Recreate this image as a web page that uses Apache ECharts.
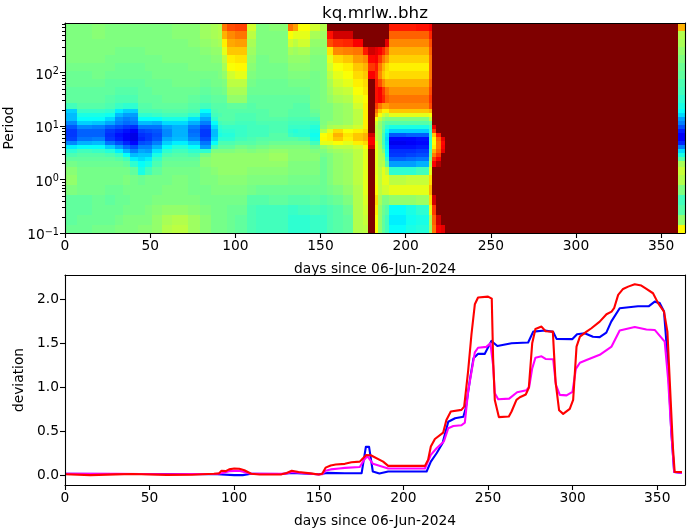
<!DOCTYPE html>
<html><head><meta charset="utf-8">
<style>html,body{margin:0;padding:0;background:#fff}#c{width:690px;height:531px}</style>
<script src="https://cdn.jsdelivr.net/npm/echarts@6/dist/echarts.min.js"></script>
</head><body><div id="c"></div>
<script>
const title = "kq.mrlw..bhz";
const xName = "days since 06-Jun-2024";
const xTicks = [0,50,100,150,200,250,300,350];
const devTicks = [0,0.5,1,1.5,2];
const periodTicks = [0.1,1,10,100];
const minorPeriods = [0.2,0.3,0.4,0.5,0.6,0.7,0.8,0.9,2,3,4,5,6,7,8,9,20,30,40,50,60,70,80,90,200,300,400,500,600,700,800];
const periodEdges = [841,597,423,300,212,151,107,75.6,53.6,38,26.9,20.8,17.5,14.7,12.4,10.4,8.79,7.4,6.22,5.24,4.42,3.72,3.13,2.63,2.22,1.71,1.21,0.789,0.513,0.333,0.217,0.141,0.1];
const dayEdges = [0,7,16,23.5,29.5,34,38,43,47,51,57,63,72,79,86,90,92,95,100,107,112,120,131,134,137,144,150,153.6,157.5,163.4,169.2,175,178,182,184,186,188,190,200,206,213.5,215.5,218,220.5,223,360,364];
const heatColumns = [
[50,50,50,50,50,49,48,48,47,47,44,33,31,31,26,21,18,18,19,26,36,42,45,47,49,51,52,50,47,47,47,48],
[50,50,50,50,50,49,48,48,47,47,46,43,40,38,33,26,22,22,24,30,38,44,46,47,48,49,49,49,47,47,48,48],
[51,51,50,50,50,49,49,48,47,47,46,43,40,38,32,25,22,22,25,31,38,43,46,47,48,49,49,49,48,48,48,49],
[50,50,50,50,49,49,48,47,47,46,45,42,39,34,29,22,18,17,18,24,33,41,45,47,48,49,49,48,47,48,48,49],
[50,50,50,49,49,48,48,47,46,45,43,36,31,27,25,20,16,14,15,20,28,36,43,46,48,49,49,48,48,48,49,50],
[50,50,50,49,49,48,48,47,46,45,42,33,28,25,23,18,14,12,12,16,23,30,38,44,47,49,50,49,48,49,50,50],
[50,50,50,49,49,48,48,47,46,45,42,33,28,26,24,17,12,10,10,13,20,25,31,36,42,47,49,49,49,49,50,50],
[50,50,50,49,49,48,48,47,47,47,46,45,42,38,31,24,19,17,16,20,25,29,32,34,38,40,48,49,49,49,50,51],
[50,50,50,50,49,49,48,48,47,47,46,45,42,38,31,24,20,18,18,21,25,28,32,36,40,44,49,49,49,50,50,51],
[50,50,50,50,49,49,49,48,48,47,47,45,43,38,30,24,21,20,21,25,30,35,40,43,45,47,49,49,50,51,52,52],
[50,50,50,50,50,49,49,48,48,48,47,46,44,40,34,28,26,26,29,33,38,42,45,47,48,49,49,50,50,52,54,55],
[51,51,50,50,50,49,49,49,48,48,47,46,44,40,34,30,30,30,31,36,41,44,46,47,48,49,50,50,50,52,55,56],
[51,51,51,50,50,50,49,49,48,47,46,45,42,35,30,25,23,24,26,32,38,42,45,47,48,49,49,49,50,51,53,53],
[53,53,52,51,50,50,49,48,47,46,44,38,33,29,25,20,18,18,20,24,28,42,49,51,51,50,50,49,49,50,51,51],
[54,54,53,52,51,50,49,49,48,47,46,45,44,42,38,34,31,31,33,38,44,50,52,52,52,51,50,50,49,49,49,49],
[55,55,54,52,51,50,50,49,48,47,46,46,45,46,44,42,41,40,42,45,47,50,52,52,52,52,51,50,49,49,49,49],
[76,70,64,60,56,54,52,50,49,47,46,46,46,46,45,43,42,41,42,45,47,50,52,52,52,52,51,50,49,49,49,49],
[80,74,71,68,64,62,58,56,54,52,47,46,46,46,45,43,42,41,42,45,47,50,52,52,52,52,51,50,49,48,48,48],
[81,76,72,68,65,63,60,56,54,52,47,46,45,45,44,43,43,43,44,46,49,51,52,52,52,52,51,50,49,48,47,47],
[58,56,54,53,52,51,50,49,48,47,46,46,45,45,44,44,44,44,45,46,48,50,52,52,52,51,50,49,46,45,45,45],
[50,50,50,50,49,49,49,48,48,47,47,46,46,46,45,44,44,44,46,47,49,51,52,52,52,51,50,48,46,44,44,44],
[51,50,50,50,50,49,49,48,48,47,47,47,47,46,45,45,45,46,46,48,50,52,53,53,52,51,50,48,47,44,44,44],
[76,62,58,54,52,51,50,49,48,47,47,46,46,45,44,43,42,43,46,48,50,51,51,51,50,50,49,48,46,43,42,42],
[72,60,56,53,52,51,50,49,48,47,46,46,46,45,44,43,41,42,46,48,50,51,51,51,50,50,49,48,46,43,42,42],
[62,60,58,54,52,51,50,49,48,47,46,46,46,45,44,43,42,42,45,48,50,51,51,51,50,50,49,48,46,44,42,42],
[58,54,52,51,50,50,49,49,49,49,49,48,47,45,43,41,40,39,40,44,48,50,51,51,50,50,49,48,47,45,43,43],
[55,53,52,51,50,50,50,50,50,50,50,50,50,50,50,51,55,62,63,60,52,50,49,48,48,48,48,48,46,44,43,43],
[100,86,80,65,60,58,56,54,53,52,50,50,50,50,52,54,60,64,64,60,54,52,50,50,50,50,50,49,47,45,45,45],
[100,92,83,74,66,62,60,58,56,54,52,52,52,52,52,55,66,70,68,62,56,53,52,52,52,52,52,50,48,46,46,46],
[100,92,84,75,68,64,62,60,57,55,53,53,53,53,53,56,62,65,64,60,56,54,53,53,53,53,53,52,50,48,47,47],
[100,100,88,76,72,68,66,64,62,60,58,56,56,56,56,58,64,68,68,64,58,56,56,56,56,56,56,55,55,55,55,55],
[100,100,100,85,74,70,68,66,65,63,64,64,64,64,64,64,66,70,70,66,62,60,60,60,60,60,60,60,59,58,57,56],
[100,100,100,92,87,82,88,100,100,100,100,100,100,100,100,100,100,92,88,88,92,100,100,100,100,100,100,100,100,100,100,100],
[100,100,100,90,88,85,84,85,86,86,82,76,72,62,58,56,56,56,56,60,60,60,60,60,60,60,61,63,66,64,62,62],
[100,100,100,88,82,76,74,80,88,88,76,68,62,56,52,52,53,53,53,53,54,55,55,55,55,56,56,56,54,52,52,52],
[100,100,100,84,76,70,68,74,82,84,72,64,58,52,48,47,46,44,44,44,46,50,54,55,56,60,60,58,50,48,47,47],
[100,100,90,78,72,66,65,70,76,78,72,64,56,50,46,42,38,35,34,35,36,37,38,42,46,56,60,58,50,46,44,44],
[85,78,74,70,67,64,66,70,73,76,74,68,60,50,46,40,33,21,13,11,14,17,18,22,28,42,56,60,52,38,36,38],
[85,78,74,70,67,64,66,70,73,76,74,68,60,50,46,40,33,22,13,12,14,17,19,23,28,42,57,60,52,40,39,40],
[86,78,74,70,67,64,66,70,73,76,74,68,60,50,46,40,33,22,14,13,15,18,20,24,30,44,57,60,53,42,40,41],
[88,84,80,78,76,76,76,78,80,82,80,70,62,56,48,44,42,42,42,42,42,44,46,50,54,60,66,70,66,60,54,52],
[100,100,100,100,100,100,100,100,100,100,100,100,100,100,100,90,82,68,63,62,64,70,75,82,88,100,100,100,92,82,78,76],
[100,100,100,100,100,100,100,100,100,100,100,100,100,100,100,100,100,85,78,76,76,78,82,88,95,100,100,100,100,100,92,88],
[100,100,100,100,100,100,100,100,100,100,100,100,100,100,100,100,100,100,90,87,88,90,100,100,100,100,100,100,100,100,100,90],
[100,100,100,100,100,100,100,100,100,100,100,100,100,100,100,100,100,100,100,100,100,100,100,100,100,100,100,100,100,100,100,100],
[70,55,54,52,50,48,47,45,44,42,40,38,34,28,25,20,15,12,12,16,25,34,40,46,54,57,55,50,44,46,52,63]
];
const blueDays = [0,30,60,90,100,105,110,128,134,150,155,165.4,175.3,177.8,179.7,181.9,185.8,191,213.7,216.2,219.6,223.1,226.5,230.5,235.4,236.8,239.4,241.4,244,248,252,255.5,263.9,273.7,276.7,283.7,288.5,290.5,299.9,302.6,307.1,312,316,319.9,322.8,327.8,338.6,344.9,348.5,351.5,354,356.4,358.3,360,364.6];
const blueVals = [0.02,0.018,0.018,0.015,0.005,0.005,0.02,0.018,0.03,0.015,0.03,0.027,0.027,0.325,0.325,0.046,0.024,0.046,0.046,0.159,0.253,0.366,0.61,0.65,0.667,0.76,1.1,1.33,1.38,1.38,1.527,1.47,1.5,1.51,1.633,1.645,1.63,1.55,1.548,1.603,1.615,1.574,1.57,1.622,1.746,1.898,1.92,1.92,1.973,1.956,1.86,1.26,0.5,0.04,0.03];
const magentaDays = [0,30,60,90,93,97,103,107,110,130,134,140,150,152,154,157,162,165.4,174.2,176.7,178.7,182,191,212.7,216.2,219.6,223.9,226.5,229.5,234.3,236.3,238.2,242.2,244.1,249,251.4,253,254,256,262.5,267.2,272.7,274.3,276.1,278,281.6,284,288.5,290.1,292.4,296.4,299.9,301.9,304.3,308.2,316,323,327.8,336.7,343.6,348.5,354.4,356.4,358.3,360,364.6];
const magentaVals = [0.02,0.02,0.015,0.02,0.03,0.05,0.055,0.035,0.02,0.02,0.04,0.03,0.012,0.015,0.055,0.07,0.08,0.087,0.098,0.177,0.22,0.133,0.08,0.08,0.235,0.31,0.386,0.537,0.563,0.571,0.6,0.95,1.397,1.45,1.46,1.5,1.25,0.934,0.866,0.873,0.945,0.968,1.005,1.215,1.337,1.353,1.323,1.32,1.03,0.915,0.91,0.95,1.21,1.28,1.31,1.37,1.463,1.645,1.686,1.656,1.652,1.52,1.1,0.5,0.04,0.03];
const redDays = [0,15,30,40,60,75,88,91,92.5,95,97,100,103,106,110,115,128,131,134,138,145,150,152,154,157,160,165.4,169.3,174.2,178,180.7,188,191,212.7,214.6,216.2,218.6,223.5,225.4,228,234.3,235.9,238.2,240.2,242.2,244.1,250,252.2,253,254,256.4,262.3,263.9,266.8,268.8,272.3,274.1,276.1,278,281.6,284,288.3,289.9,292,294.4,298.3,300.3,302.3,304.3,308.2,311.1,316,320,323,324.5,326.9,329.8,332.8,336.7,340.6,343.6,347.5,350.5,354,356,357.4,359.3,360.3,364.6];
const redVals = [0.015,0.005,0.013,0.018,0.008,0.01,0.02,0.025,0.055,0.05,0.07,0.08,0.078,0.06,0.02,0.012,0.014,0.03,0.055,0.04,0.025,0.012,0.02,0.09,0.115,0.125,0.133,0.151,0.158,0.234,0.23,0.158,0.11,0.11,0.18,0.329,0.415,0.487,0.63,0.726,0.745,0.782,1.18,1.6,1.943,2.02,2.03,2.007,1.33,0.858,0.663,0.67,0.727,0.858,0.888,0.92,0.996,1.5,1.663,1.69,1.637,1.633,1.066,0.74,0.7,0.756,0.858,1.463,1.576,1.633,1.671,1.746,1.83,1.86,1.898,2.05,2.117,2.143,2.17,2.155,2.117,2.068,1.956,1.86,1.633,1.07,0.31,0.04,0.04];
const jetColors = ['#00007f','#0000ff','#007fff','#00ffff','#7fff7f','#ffff00','#ff7f00','#ff0000','#7f0000'];

const FONT = 'DejaVu Sans';
const FS = 13.8;
const zipXY = (xs, ys) => xs.map((x, i) => [x, ys[i]]);
const heatData = [];
heatColumns.forEach((col, c) => col.forEach((v, r) =>
  heatData.push([dayEdges[c], dayEdges[c + 1], periodEdges[r + 1], periodEdges[r], v])));
const label = {fontFamily: FONT, fontSize: FS, color: '#000', margin: 6};
const lineS = {color: '#000', width: 1.1};
const frameX = (g) => ({type: 'value', gridIndex: g, position: 'top', min: 0, max: 1, z: 10,
  axisLine: {show: true, onZero: false, lineStyle: lineS}, axisTick: {show: false}, axisLabel: {show: false}, splitLine: {show: false}});
const frameY = (g) => ({type: 'value', gridIndex: g, position: 'right', min: 0, max: 1, z: 10,
  axisLine: {show: true, onZero: false, lineStyle: lineS}, axisTick: {show: false}, axisLabel: {show: false}, splitLine: {show: false}});
const bottomX = (g, max) => ({type: 'value', gridIndex: g, position: 'bottom', min: 0, max, z: 10,
  name: xName, nameLocation: 'middle', nameGap: 29, nameTextStyle: {fontFamily: FONT, fontSize: FS, color: '#000'},
  axisLine: {show: true, onZero: false, lineStyle: lineS},
  axisTick: {show: true, length: 5, lineStyle: lineS, customValues: xTicks},
  axisLabel: Object.assign({customValues: xTicks, hideOverlap: false}, label),
  splitLine: {show: false}});
const lineSeries = (name, days, vals, color) => ({name, type: 'line', xAxisIndex: 1, yAxisIndex: 1,
  data: zipXY(days, vals), showSymbol: false, symbol: 'none', animation: false, z: 3,
  lineStyle: {color, width: 2.1, join: 'round'}});

const chart = echarts.init(document.getElementById('c'), null, {renderer: 'canvas'});
chart.setOption({
  animation: false,
  backgroundColor: '#fff',
  title: {text: title, left: 370, top: 0, textAlign: 'center',
    textStyle: {fontFamily: FONT, fontSize: 16.67, fontWeight: 'normal', color: '#000'}},
  grid: [
    {left: 65, right: 5, top: 23, height: 210, containLabel: false, outerBoundsMode: 'none'},
    {left: 65, right: 5, top: 275, height: 210, containLabel: false, outerBoundsMode: 'none'}
  ],
  xAxis: [bottomX(0, 364), bottomX(1, 366.4), frameX(0), frameX(1)],
  yAxis: [
    {type: 'log', logBase: 10, gridIndex: 0, min: 0.1, max: 841, z: 10,
      name: 'Period', nameLocation: 'middle', nameGap: 47, nameTextStyle: {fontFamily: FONT, fontSize: FS, color: '#000'},
      axisLine: {show: true, onZero: false, lineStyle: lineS},
      axisTick: {show: false},
      axisLabel: Object.assign({}, label, {
        customValues: periodTicks,
        padding: [5, 0, 0, 0],
        formatter: (v) => {
          const e = Math.round(Math.log10(v));
          return '{b|10}{s|' + String(e).replace('-', '\u2212') + '}';
        },
        rich: {
          b: {fontFamily: FONT, fontSize: FS, color: '#000'},
          s: {fontFamily: FONT, fontSize: 9.7, color: '#000', padding: [0, 0, 7, 0]}
        }}),
      splitLine: {show: false}, minorTick: {show: false}, minorSplitLine: {show: false}},
    {type: 'value', gridIndex: 1, min: -0.107, max: 2.275, z: 10,
      name: 'deviation', nameLocation: 'middle', nameGap: 39, nameTextStyle: {fontFamily: FONT, fontSize: FS, color: '#000'},
      axisLine: {show: true, onZero: false, lineStyle: lineS},
      axisTick: {show: true, length: 5, lineStyle: lineS, customValues: devTicks},
      axisLabel: Object.assign({customValues: devTicks, formatter: (v) => v.toFixed(1)}, label),
      splitLine: {show: false}},
    frameY(0), frameY(1)
  ],
  visualMap: {show: false, type: 'continuous', seriesIndex: 0, dimension: 4, min: 0, max: 100,
    inRange: {color: jetColors}},
  series: [
    {type: 'custom', name: 'heat', xAxisIndex: 0, yAxisIndex: 0, coordinateSystem: 'cartesian2d',
      data: heatData, encode: {x: [0, 1], y: [2, 3]}, animation: false, z: 2, silent: true,
      renderItem: (params, api) => {
        const a = api.coord([api.value(0), api.value(3)]);
        const b = api.coord([api.value(1), api.value(2)]);
        const x0 = Math.round(a[0]), y0 = Math.round(a[1]);
        return {type: 'rect', shape: {x: x0, y: y0, width: Math.round(b[0]) - x0, height: Math.round(b[1]) - y0},
          style: {fill: api.visual('color')}};
      }},
    {type: 'custom', name: 'periodTicks', xAxisIndex: 0, yAxisIndex: 0, coordinateSystem: 'cartesian2d',
      data: periodTicks.map(p => [0, p, 5]).concat(minorPeriods.map(p => [0, p, 3])),
      encode: {x: 0, y: 1}, animation: false, z: 4, clip: false, silent: true,
      renderItem: (params, api) => {
        const p = api.coord([api.value(0), api.value(1)]);
        return {type: 'line', shape: {x1: p[0], y1: Math.round(p[1]) + 0.5, x2: p[0] - api.value(2), y2: Math.round(p[1]) + 0.5},
          style: {stroke: '#000', lineWidth: 1}};
      }},
    lineSeries('blue', blueDays, blueVals, '#0000ff'),
    lineSeries('magenta', magentaDays, magentaVals, '#ff00ff'),
    lineSeries('red', redDays, redVals, '#ff0000')
  ]
});
</script></body></html>
